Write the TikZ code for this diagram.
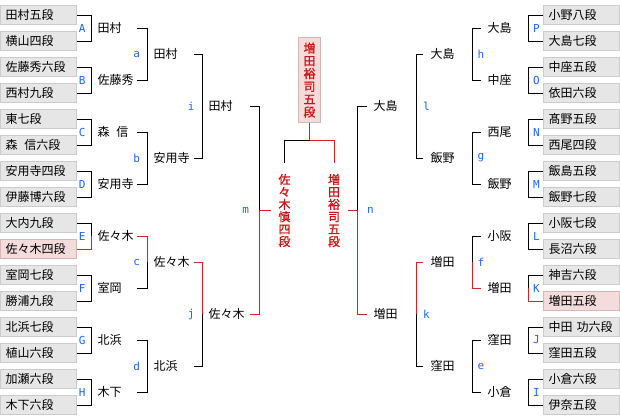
\documentclass[tikz,border=0pt]{standalone}
\usepackage{fontspec}
\setmainfont{Noto Sans CJK JP}
\newfontfamily\rlfont{DejaVu Sans Mono}
\newfontfamily\boldjp{Noto Sans CJK JP}[FakeBold=1.2]
\definecolor{seatfill}{HTML}{E6E6E6}
\definecolor{seatline}{HTML}{CCCCCC}
\definecolor{winfill}{HTML}{F4DCDC}
\definecolor{winline}{HTML}{D9B6B6}
\definecolor{winred}{HTML}{DD1F1F}
\definecolor{wintext}{HTML}{CC1414}
\definecolor{rlblue}{HTML}{1A66FF}
\tikzset{
    seat/.style={draw=seatline,fill=seatfill,text width=66pt,inner xsep=5pt,inner ysep=0pt,minimum height=19pt,align=left,font=\fontsize{12}{14}\selectfont},
    seatwin/.style={seat,draw=winline,fill=winfill},
    pname/.style={anchor=west,inner sep=0pt,font=\fontsize{12}{14}\selectfont},
    rlabel/.style={inner sep=0pt,text=rlblue,font=\rlfont\fontsize{11}{13}\selectfont},
    vname/.style={align=center,inner xsep=7pt,inner ysep=10pt,text=wintext,font=\boldjp\fontsize{12}{12.4}\selectfont},
    won/.style={draw=winred}
}
\begin{document}
\begin{tikzpicture}[x=1pt,y=-1pt,line width=1pt]
    \useasboundingbox (0,0) rectangle (620,416);

    \node[seat] (L1) at (38.5,15) {田村五段};
    \node[seat] (L2) at (38.5,41) {横山四段};
    \node[seat] (L3) at (38.5,67) {佐藤秀六段};
    \node[seat] (L4) at (38.5,93) {西村九段};
    \node[seat] (L5) at (38.5,119) {東七段};
    \node[seat] (L6) at (38.5,145) {森\hspace{7pt}信六段};
    \node[seat] (L7) at (38.5,171) {安用寺四段};
    \node[seat] (L8) at (38.5,197) {伊藤博六段};
    \node[seat] (L9) at (38.5,223) {大内九段};
    \node[seatwin] (L10) at (38.5,249) {佐々木四段};
    \node[seat] (L11) at (38.5,275) {室岡七段};
    \node[seat] (L12) at (38.5,301) {勝浦九段};
    \node[seat] (L13) at (38.5,327) {北浜七段};
    \node[seat] (L14) at (38.5,353) {植山六段};
    \node[seat] (L15) at (38.5,379) {加瀬六段};
    \node[seat] (L16) at (38.5,405) {木下六段};

    \node[seat] (R1) at (581.5,15) {小野八段};
    \node[seat] (R2) at (581.5,41) {大島七段};
    \node[seat] (R3) at (581.5,67) {中座五段};
    \node[seat] (R4) at (581.5,93) {依田六段};
    \node[seat] (R5) at (581.5,119) {髙野五段};
    \node[seat] (R6) at (581.5,145) {西尾四段};
    \node[seat] (R7) at (581.5,171) {飯島五段};
    \node[seat] (R8) at (581.5,197) {飯野七段};
    \node[seat] (R9) at (581.5,223) {小阪七段};
    \node[seat] (R10) at (581.5,249) {長沼六段};
    \node[seat] (R11) at (581.5,275) {神吉六段};
    \node[seatwin] (R12) at (581.5,301) {増田五段};
    \node[seat] (R13) at (581.5,327) {中田~功六段};
    \node[seat] (R14) at (581.5,353) {窪田五段};
    \node[seat] (R15) at (581.5,379) {小倉六段};
    \node[seat] (R16) at (581.5,405) {伊奈五段};

    \node[pname] (wA) at (97,28) {田村};
    \node[pname] (wB) at (97,80) {佐藤秀};
    \node[pname] (wC) at (97,132) {森\hspace{7pt}信};
    \node[pname] (wD) at (97,184) {安用寺};
    \node[pname] (wE) at (97,236) {佐々木};
    \node[pname] (wF) at (97,288) {室岡};
    \node[pname] (wG) at (97,340) {北浜};
    \node[pname] (wH) at (97,392) {木下};
    \node[pname] (wa) at (153,54) {田村};
    \node[pname] (wb) at (153,158) {安用寺};
    \node[pname] (wc) at (153,262) {佐々木};
    \node[pname] (wd) at (153,366) {北浜};
    \node[pname] (wi) at (208,106) {田村};
    \node[pname] (wj) at (208,314) {佐々木};

    \node[pname] (wP) at (487,28) {大島};
    \node[pname] (wO) at (487,80) {中座};
    \node[pname] (wN) at (487,132) {西尾};
    \node[pname] (wM) at (487,184) {飯野};
    \node[pname] (wL) at (487,236) {小阪};
    \node[pname] (wK) at (487,288) {増田};
    \node[pname] (wJ) at (487,340) {窪田};
    \node[pname] (wI) at (487,392) {小倉};
    \node[pname] (wh) at (430,54) {大島};
    \node[pname] (wg) at (430,158) {飯野};
    \node[pname] (wf) at (430,262) {増田};
    \node[pname] (we) at (430,366) {窪田};
    \node[pname] (wl) at (373,106) {大島};
    \node[pname] (wk) at (373,314) {増田};

    \node[vname,draw=winline,fill=winfill,inner xsep=4pt,inner ysep=4pt,minimum width=22pt,minimum height=85pt,font=\boldjp\fontsize{12}{12.8}\selectfont] (champ) at (309.5,80) {増\\田\\裕\\司\\五\\段};
    \node[vname] (fl) at (284.5,210.5) {佐\\々\\木\\慎\\四\\段};
    \node[vname] (fr) at (334,210.5) {増\\田\\裕\\司\\五\\段};

    % first round, left
    \draw (L1.east) -- ++(14,0) |- (L2.east) node[rlabel,pos=0.25,left=5pt] (tA) {A};
    \draw (L3.east) -- ++(14,0) |- (L4.east) node[rlabel,pos=0.25,left=5pt] (tB) {B};
    \draw (L5.east) -- ++(14,0) |- (L6.east) node[rlabel,pos=0.25,left=5pt] (tC) {C};
    \draw (L7.east) -- ++(14,0) |- (L8.east) node[rlabel,pos=0.25,left=5pt] (tD) {D};
    \draw (L9.east) -- ++(14,0) coordinate (cE) -- (cE |- wE.west) node[rlabel,left=5pt] (tE) {E};
    \draw[won] (cE |- wE.west) -- (cE |- L10.east) -- (L10.east);
    \draw (L11.east) -- ++(14,0) |- (L12.east) node[rlabel,pos=0.25,left=5pt] (tF) {F};
    \draw (L13.east) -- ++(14,0) |- (L14.east) node[rlabel,pos=0.25,left=5pt] (tG) {G};
    \draw (L15.east) -- ++(14,0) |- (L16.east) node[rlabel,pos=0.25,left=5pt] (tH) {H};

    % later rounds, left
    \draw ([xshift=40pt]wA.west) -- ++(10,0) |- ([xshift=40pt]wB.west) node[rlabel,pos=0.25,left=6.5pt] (ta) {a};
    \draw ([xshift=40pt]wC.west) -- ++(10,0) |- ([xshift=40pt]wD.west) node[rlabel,pos=0.25,left=6.5pt] (tb) {b};
    \draw[won] ([xshift=40pt]wE.west) -- ++(10,0) coordinate (cc) -- (cc |- wc.west);
    \draw (cc |- wc.west) node[rlabel,left=6.5pt] (tc) {c} -- (cc |- wF.west) -- ([xshift=40pt]wF.west);
    \draw ([xshift=40pt]wG.west) -- ++(10,0) |- ([xshift=40pt]wH.west) node[rlabel,pos=0.25,left=6.5pt] (td) {d};
    \draw ([xshift=41pt]wa.west) -- ++(8,0) |- ([xshift=41pt]wb.west) node[rlabel,pos=0.25,left=7pt] (ti) {i};
    \draw[won] ([xshift=41pt]wc.west) -- ++(8,0) coordinate (cj) -- (cj |- wj.west);
    \draw (cj |- wj.west) node[rlabel,left=7pt] (tj) {j} -- (cj |- wd.west) -- ([xshift=41pt]wd.west);
    \draw ([xshift=42pt]wi.west) -- ++(9,0) coordinate (cm) -- (cm |- fl.west) node[rlabel,left=9.5pt] (tm) {m};
    \draw[won] (fl.west) -- (cm |- fl.west) -- (cm |- wj.west) -- ([xshift=42pt]wj.west);

    % first round, right
    \draw (R1.west) -- ++(-15,0) |- (R2.west) node[rlabel,pos=0.25,right=4.5pt] (tP) {P};
    \draw (R3.west) -- ++(-15,0) |- (R4.west) node[rlabel,pos=0.25,right=4.5pt] (tO) {O};
    \draw (R5.west) -- ++(-15,0) |- (R6.west) node[rlabel,pos=0.25,right=4.5pt] (tN) {N};
    \draw (R7.west) -- ++(-15,0) |- (R8.west) node[rlabel,pos=0.25,right=4.5pt] (tM) {M};
    \draw (R9.west) -- ++(-15,0) |- (R10.west) node[rlabel,pos=0.25,right=4.5pt] (tL) {L};
    \draw (R11.west) -- ++(-15,0) coordinate (cK) -- (cK |- wK.west) node[rlabel,right=4.5pt] (tK) {K};
    \draw[won] (cK |- wK.west) -- (cK |- R12.west) -- (R12.west);
    \draw (R13.west) -- ++(-15,0) |- (R14.west) node[rlabel,pos=0.25,right=4.5pt] (tJ) {J};
    \draw (R15.west) -- ++(-15,0) |- (R16.west) node[rlabel,pos=0.25,right=4.5pt] (tI) {I};

    % later rounds, right
    \draw ([xshift=-6pt]wP.west) -- ++(-9,0) |- ([xshift=-6pt]wO.west) node[rlabel,pos=0.25,right=5pt] (th) {h};
    \draw ([xshift=-6pt]wN.west) -- ++(-9,0) |- ([xshift=-6pt]wM.west) node[rlabel,pos=0.25,right=5pt] (tg) {g};
    \draw ([xshift=-6pt]wL.west) -- ++(-9,0) coordinate (cf) -- (cf |- wf.west) node[rlabel,right=5pt] (tf) {f};
    \draw[won] (cf |- wf.west) -- (cf |- wK.west) -- ([xshift=-6pt]wK.west);
    \draw ([xshift=-6pt]wJ.west) -- ++(-9,0) |- ([xshift=-6pt]wI.west) node[rlabel,pos=0.25,right=5pt] (te) {e};
    \draw ([xshift=-7pt]wh.west) -- ++(-7,0) |- ([xshift=-7pt]wg.west) node[rlabel,pos=0.25,right=6.7pt] (tl) {l};
    \draw[won] ([xshift=-7pt]wf.west) -- ++(-7,0) coordinate (ck) -- (ck |- wk.west);
    \draw (ck |- wk.west) node[rlabel,right=6.7pt] (tk) {k} -- (ck |- we.west) -- ([xshift=-7pt]we.west);
    \draw ([xshift=-6pt]wl.west) -- ++(-10,0) coordinate (cn) -- (cn |- fr.east) node[rlabel,right=9.5pt] (tn) {n};
    \draw[won] (fr.east) -- (cn |- fr.east) -- (cn |- wk.west) -- ([xshift=-6pt]wk.west);

    % final
    \draw[won] (champ.south) -- ++(0,17) coordinate (cz) -| (fr.north);
    \draw (cz) -| (fl.north);
\end{tikzpicture}
\end{document}
